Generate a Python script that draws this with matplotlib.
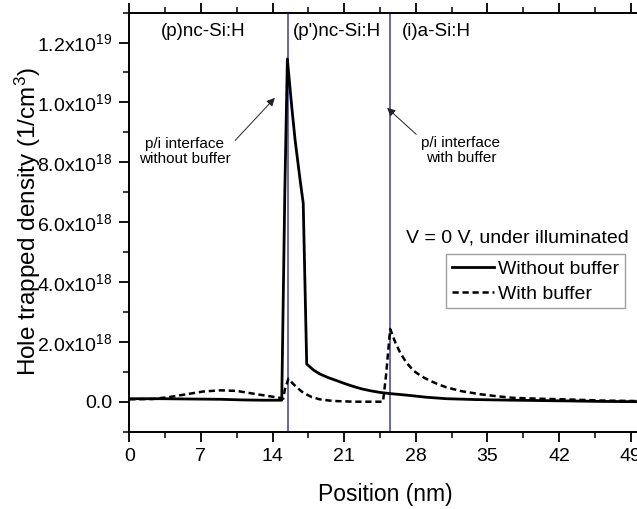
import matplotlib
matplotlib.use("Agg")
import matplotlib.pyplot as plt
from matplotlib.ticker import FixedLocator, MultipleLocator

plt.rcParams["font.family"] = ["Liberation Sans", "DejaVu Sans"]
plt.rcParams["mathtext.fontset"] = "custom"
plt.rcParams["mathtext.rm"] = "Liberation Sans"
plt.rcParams["mathtext.it"] = "Liberation Sans:italic"

# Hole trapped density profiles (1/cm^3) versus position (nm)
pos_without = [0, 3, 6, 9, 11, 13, 14.9, 15.2, 15.45, 15.87, 16.2, 16.69, 17.0,
               17.34, 18.0, 18.6, 19.4, 20.3, 21.1, 21.9, 22.7, 23.5, 24.5, 25.5,
               27.4, 29.0, 31.0, 34.0, 37.5, 42.0, 46.0, 50.0]
dens_without = [0.10e18, 0.10e18, 0.09e18, 0.08e18, 0.06e18, 0.05e18, 0.05e18, 7.0e18,
                11.45e18, 9.88e18, 8.76e18, 7.42e18, 6.63e18,
                1.26e18, 1.06e18, 0.93e18, 0.81e18, 0.70e18, 0.60e18, 0.51e18, 0.43e18,
                0.37e18, 0.31e18, 0.27e18,
                0.21e18, 0.15e18, 0.10e18, 0.07e18, 0.05e18, 0.03e18, 0.01e18, 0.0]

pos_with = [0, 2.3, 4.0, 5.6, 7.2, 8.9, 10.5, 12.1, 13.75, 14.7, 15.05, 15.2, 15.55,
            16.0, 16.5, 17.0, 17.8, 18.6, 19.5, 20.3, 22.0, 24.8, 25.1, 25.5,
            26.0, 26.5, 27.1, 27.8, 28.6, 29.4, 30.2, 31.0, 32.5, 34.3, 36.0, 37.5,
            40.0, 42.4, 46.0, 50.0]
dens_with = [0.08e18, 0.09e18, 0.16e18, 0.25e18, 0.34e18, 0.38e18, 0.36e18, 0.27e18,
             0.18e18, 0.13e18, 0.10e18, 0.40e18, 0.77e18,
             0.60e18, 0.44e18, 0.30e18, 0.16e18, 0.08e18, 0.04e18, 0.02e18, 0.0, 0.0,
             0.9e18, 2.43e18,
             1.98e18, 1.62e18, 1.30e18, 1.03e18, 0.84e18, 0.70e18, 0.58e18, 0.48e18,
             0.35e18, 0.25e18, 0.18e18, 0.13e18,
             0.10e18, 0.08e18, 0.04e18, 0.02e18]

interfaces = [15.5, 25.5]
layer_names = ["(p)nc-Si:H", "(p')nc-Si:H", "(i)a-Si:H"]
layer_centers = [7.27, 20.27, 30.05]

ytick_values = [0, 2e18, 4e18, 6e18, 8e18, 1.0e19, 1.2e19]
ytick_labels = ["0.0", "2.0x10$^{18}$", "4.0x10$^{18}$", "6.0x10$^{18}$",
                "8.0x10$^{18}$", "1.0x10$^{19}$", "1.2x10$^{19}$"]
xtick_values = [0, 7, 14, 21, 28, 35, 42, 49]

fig = plt.figure(figsize=(6.37, 5.09), dpi=100)
ax = fig.add_axes([0.203, 0.152, 0.803, 0.8232])

ax.plot(pos_without, dens_without, color="black", lw=2.0, label="Without buffer")
ax.plot(pos_with, dens_with, color="black", lw=1.8, ls=(0, (2.5, 1.5)), label="With buffer")

for xi in interfaces:
    ax.axvline(xi, color="#4b4bb4", lw=1.2, zorder=1)

ax.set_xlim(0, 50)
ax.set_ylim(-1.0e18, 1.3e19)

ax.xaxis.set_major_locator(FixedLocator(xtick_values))
ax.xaxis.set_minor_locator(MultipleLocator(3.5))
ax.yaxis.set_major_locator(FixedLocator(ytick_values))
ax.set_yticklabels(ytick_labels)
ax.yaxis.set_minor_locator(MultipleLocator(1e18))

ax.tick_params(which="major", direction="out", length=7, width=1.3, labelsize=14,
               top=True, right=False, pad=5)
ax.tick_params(which="minor", direction="out", length=4, width=1.1, top=True, right=False)
ax.tick_params(axis="x", labeltop=False)
for side in ["left", "bottom", "top", "right"]:
    ax.spines[side].set_linewidth(1.4)

ax.set_xlabel("Position (nm)", fontsize=16.5, labelpad=13)
ax.set_ylabel("Hole trapped density (1/cm$^3$)", fontsize=17.5)
ax.yaxis.set_label_coords(-0.168, 0.5)

for name, xc in zip(layer_names, layer_centers):
    ax.text(xc, 12.36e18, name, fontsize=13.5, ha="center", va="center")

ax.text(5.44, 8.36e18, "p/i interface\nwithout buffer", fontsize=11, ha="center",
        va="center", linespacing=1.1)
ax.annotate("", xy=(14.41, 10.22e18), xytext=(10.16, 8.66e18),
            arrowprops=dict(arrowstyle="-|>", color="#222222", lw=0.7, mutation_scale=12))
ax.text(32.4, 8.39e18, "p/i interface\nwith buffer", fontsize=11, ha="center",
        va="center", linespacing=1.1)
ax.annotate("", xy=(25.0, 9.88e18), xytext=(28.25, 8.87e18),
            arrowprops=dict(arrowstyle="-|>", color="#222222", lw=0.7, mutation_scale=12))

ax.text(37.95, 5.46e18, "V = 0 V, under illuminated", fontsize=14, ha="center", va="center")

leg = ax.legend(loc="upper left", bbox_to_anchor=(0.6997, 0.5004),
                bbox_transform=fig.transFigure, fontsize=14, frameon=True,
                fancybox=False, edgecolor="#888888", borderpad=0.3,
                handlelength=2.2, handletextpad=0.2, labelspacing=0.37,
                borderaxespad=0)
leg.get_frame().set_linewidth(1.0)

fig.savefig("out.png", dpi=100)
